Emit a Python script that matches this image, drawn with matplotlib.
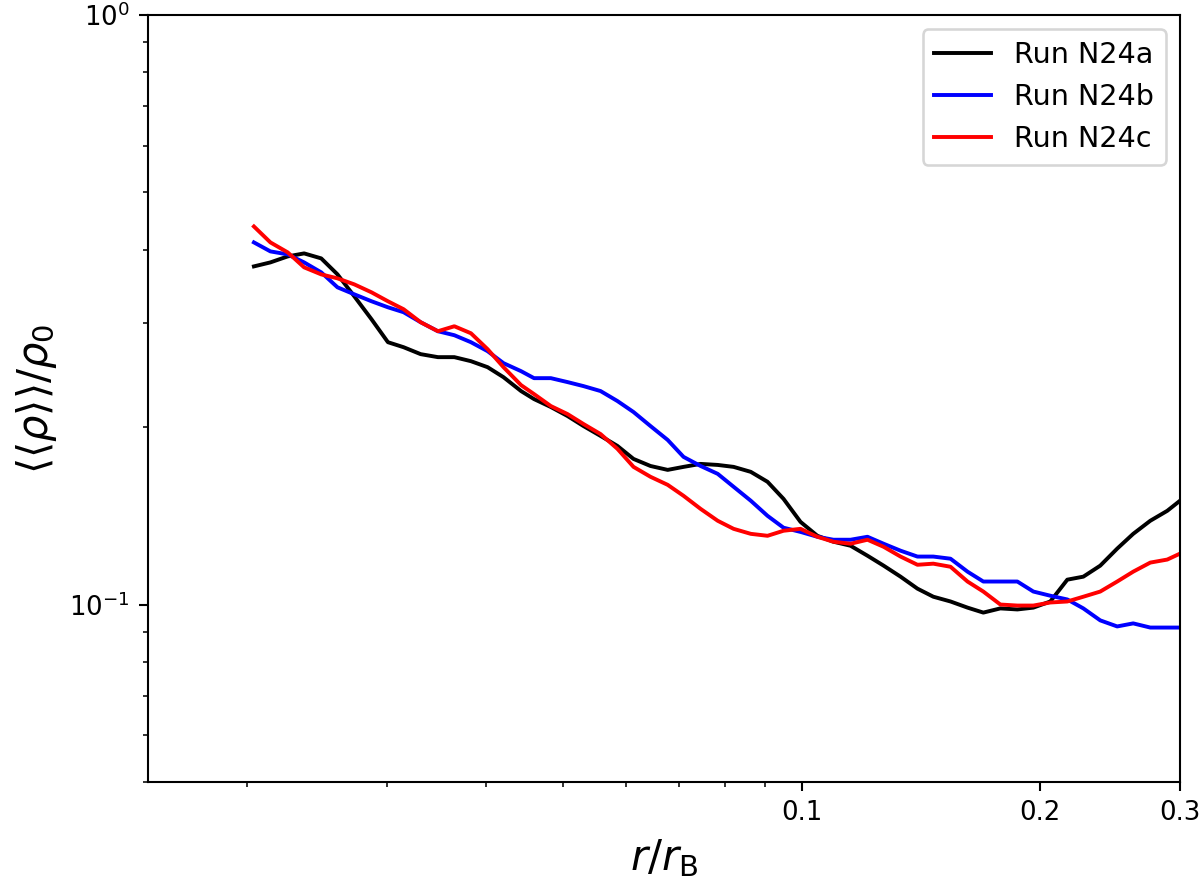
import matplotlib
matplotlib.use("Agg")
import matplotlib.pyplot as plt
from matplotlib.ticker import FixedLocator, FixedFormatter, NullFormatter

# radius r / r_B
r = [0.0204, 0.0214, 0.0225, 0.0236, 0.0248, 0.0260, 0.0273, 0.0287, 0.0301, 0.0315,
     0.0331, 0.0348, 0.0365, 0.0383, 0.0402, 0.0421, 0.0443, 0.0460, 0.0483, 0.0507,
     0.0531, 0.0558, 0.0586, 0.0614, 0.0645, 0.0678, 0.0710, 0.0746, 0.0784, 0.0821,
     0.0863, 0.0906, 0.0949, 0.0997, 0.1047, 0.1097, 0.1153, 0.1211, 0.1269, 0.1333,
     0.1400, 0.1466, 0.1541, 0.1619, 0.1695, 0.1781, 0.1871, 0.1960, 0.2059, 0.2163,
     0.2266, 0.2380, 0.2500, 0.2619, 0.2752, 0.2891, 0.3000]

rho_N24a = [0.3746, 0.3805, 0.3895, 0.3941, 0.3865, 0.3631, 0.3333, 0.3047, 0.2786, 0.2732,
            0.2659, 0.2628, 0.2628, 0.2587, 0.2527, 0.2430, 0.2302, 0.2231, 0.2163, 0.2088,
            0.2008, 0.1932, 0.1858, 0.1766, 0.1718, 0.1692, 0.1712, 0.1732, 0.1725, 0.1712,
            0.1679, 0.1615, 0.1511, 0.1381, 0.1308, 0.1278, 0.1258, 0.1210, 0.1164, 0.1115,
            0.1064, 0.1031, 0.1012, 0.0988, 0.0969, 0.0985, 0.0981, 0.0988, 0.1012, 0.1102,
            0.1115, 0.1164, 0.1244, 0.1318, 0.1387, 0.1442, 0.1500]

rho_N24b = [0.4114, 0.3972, 0.3926, 0.3805, 0.3660, 0.3452, 0.3359, 0.3269, 0.3193, 0.3132,
            0.3012, 0.2908, 0.2863, 0.2786, 0.2690, 0.2567, 0.2488, 0.2421, 0.2421, 0.2384,
            0.2347, 0.2302, 0.2214, 0.2121, 0.2008, 0.1902, 0.1780, 0.1718, 0.1666, 0.1584,
            0.1500, 0.1414, 0.1350, 0.1328, 0.1303, 0.1288, 0.1288, 0.1303, 0.1268, 0.1234,
            0.1206, 0.1206, 0.1196, 0.1137, 0.1094, 0.1094, 0.1094, 0.1052, 0.1035, 0.1020,
            0.0985, 0.0940, 0.0918, 0.0929, 0.0914, 0.0914, 0.0914]

rho_N24c = [0.4378, 0.4114, 0.3957, 0.3732, 0.3631, 0.3575, 0.3492, 0.3385, 0.3269, 0.3169,
            0.3012, 0.2908, 0.2965, 0.2885, 0.2711, 0.2527, 0.2356, 0.2275, 0.2171, 0.2104,
            0.2024, 0.1946, 0.1837, 0.1712, 0.1647, 0.1596, 0.1529, 0.1453, 0.1387, 0.1344,
            0.1318, 0.1308, 0.1334, 0.1344, 0.1303, 0.1278, 0.1268, 0.1288, 0.1253, 0.1206,
            0.1168, 0.1173, 0.1159, 0.1094, 0.1052, 0.1000, 0.0996, 0.0996, 0.1008, 0.1012,
            0.1031, 0.1052, 0.1094, 0.1137, 0.1178, 0.1192, 0.1220]

series_labels = ["Run N24a", "Run N24b", "Run N24c"]
series_colors = ["black", "blue", "red"]
xtick_vals = [0.1, 0.2, 0.3]
xtick_labels = ["0.1", "0.2", "0.3"]

fig = plt.figure(figsize=(6.4, 886 / 187.5), dpi=187.5)
ax = fig.add_axes([148 / 1200, 1 - 782 / 886, (1180 - 148) / 1200, (782 - 15) / 886])

for ys, lab, col in zip([rho_N24a, rho_N24b, rho_N24c], series_labels, series_colors):
    ax.plot(r, ys, color=col, lw=1.5, label=lab)

ax.set_xscale("log")
ax.set_yscale("log")
ax.set_xlim(0.015, 0.3)
ax.set_ylim(0.05, 1.0)
ax.xaxis.set_major_locator(FixedLocator(xtick_vals))
ax.xaxis.set_major_formatter(FixedFormatter(xtick_labels))
ax.xaxis.set_minor_formatter(NullFormatter())
ax.yaxis.set_minor_formatter(NullFormatter())
ax.tick_params(labelsize=10)

ax.set_xlabel(r"$r/r_{\rm B}$", fontsize=16)
ax.set_ylabel(r"$\langle\langle\rho\rangle\rangle/\rho_0$", fontsize=16)
ax.legend(loc="upper right", fontsize=11)

fig.savefig("out.png", dpi=187.5)
